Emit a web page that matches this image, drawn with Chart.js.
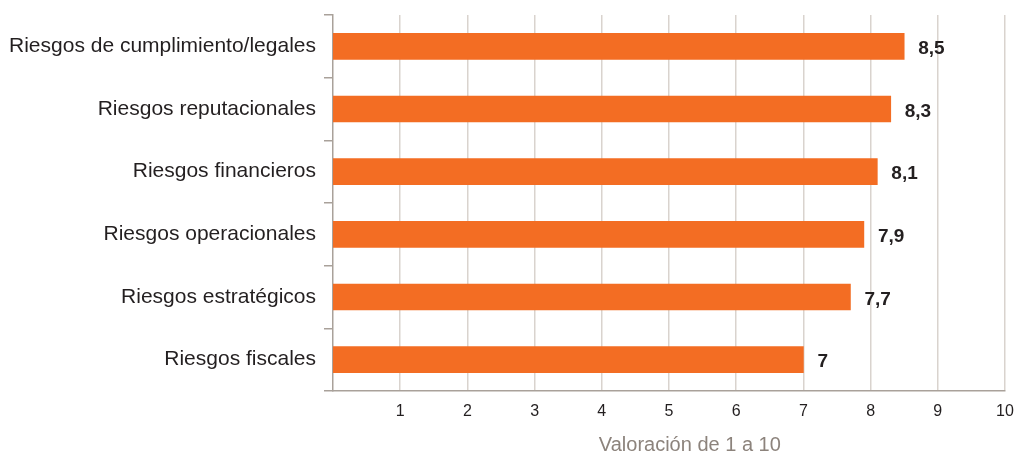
<!DOCTYPE html>
<html><head><meta charset="utf-8">
<script src="https://cdn.jsdelivr.net/npm/chart.js@4/dist/chart.umd.min.js"></script>
<style>html,body{margin:0;padding:0;background:#fff}#wrap{width:1016px;height:454px}</style>
</head><body><div id="wrap"><canvas id="c" width="1016" height="454"></canvas></div>
<script>
const categories = ["Riesgos de cumplimiento/legales","Riesgos reputacionales","Riesgos financieros","Riesgos operacionales","Riesgos estratégicos","Riesgos fiscales"];
const values = [8.5, 8.3, 8.1, 7.9, 7.7, 7];
const xTicks = [1,2,3,4,5,6,7,8,9,10];
const axisTitle = "Valoración de 1 a 10";

const FONT = "'Liberation Sans', Arial, Helvetica, sans-serif";

const labelsPlugin = {
  id: 'valueLabels',
  afterDatasetsDraw(chart) {
    const ctx = chart.ctx;
    const meta = chart.getDatasetMeta(0);
    ctx.save();
    ctx.font = "bold 19px " + FONT;
    ctx.fillStyle = "#231f20";
    ctx.textAlign = "left";
    ctx.textBaseline = "middle";
    meta.data.forEach((bar, i) => {
      ctx.fillText(String(values[i]).replace('.', ','), bar.x + 14, bar.y + 2.5);
    });
    // axis title
    const ca = chart.chartArea;
    ctx.font = "20px " + FONT;
    ctx.fillStyle = "#8c837c";
    ctx.textAlign = "center";
    ctx.textBaseline = "middle";
    ctx.fillText(axisTitle, ca.left + (ca.right - ca.left) * 0.531, 445);
    ctx.restore();
  }
};

new Chart(document.getElementById('c'), {
  type: 'bar',
  data: {
    labels: categories,
    datasets: [{
      data: values,
      backgroundColor: '#f36d23',
      barThickness: 26
    }]
  },
  options: {
    indexAxis: 'y',
    responsive: false,
    animation: false,
    layout: { padding: { top: 15, right: 11, left: 0, bottom: 0 } },
    plugins: { legend: { display: false }, tooltip: { enabled: false } },
    scales: {
      x: {
        min: 0, max: 10,
        afterBuildTicks(scale) { scale.ticks = xTicks.map(v => ({ value: v })); },
        afterFit(scale) { scale.height = 63; scale.paddingLeft = 0; scale.paddingRight = 0; },
        grid: { color: '#d9d3ce', lineWidth: 1.5, drawTicks: false },
        border: { display: true, color: '#a9a19a', width: 1.5 },
        ticks: { color: '#231f20', font: { family: FONT, size: 16 }, padding: 11 }
      },
      y: {
        afterFit(scale) { scale.width = 333; scale.paddingTop = 0; scale.paddingBottom = 0; },
        grid: { drawOnChartArea: false, drawTicks: true, tickLength: 9, color: '#a9a19a', lineWidth: 1.5, offset: true },
        border: { display: true, color: '#a9a19a', width: 1.5 },
        ticks: { color: '#231f20', font: { family: FONT, size: 21 }, padding: 8 }
      }
    }
  },
  plugins: [labelsPlugin]
});
</script></body></html>
